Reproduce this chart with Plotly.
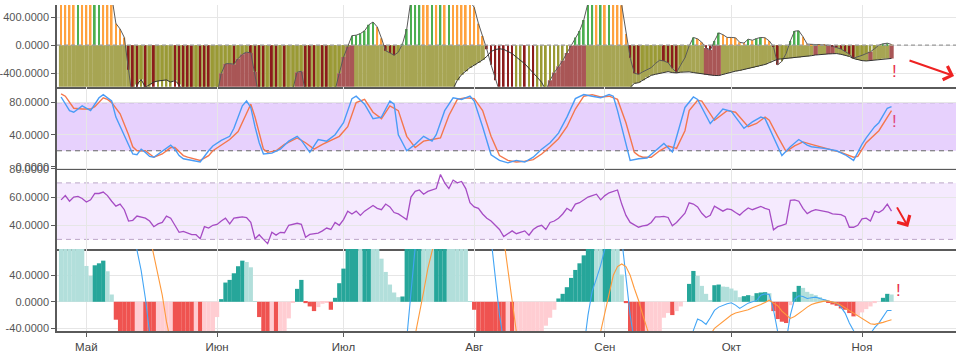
import pandas as pd
import plotly.graph_objects as go

START = "2024-04-25"
N = 198

# ---------------- panel 1 : oscillator (stripes + cloud) ----------------
osc_a = [
    900, 870, 840, 820, 860, 840, 820, 800, 830, 860,
    840, 800, 700, 310, 230, 110, -350, -800, -820, -780,
    -810, -790, -830, -800, -780, -760, -740, -780, -820, -850,
    -880, -900, -880, -900, -920, -940, -920, -700, -400, -265,
    -262, -272, -190, -130, -100, -110, -380, -750, -800, -780,
    -820, -850, -830, -870, -700, -620, -385, -372, -680, -750,
    -800, -780, -820, -850, -800, -640, -400, -170, -20, 135,
    142, 165, 205, 290, 330, 260, 100, -80, -110, -143,
    -100, 20, 230, 650, 700, 750, 720, 700, 740, 720,
    760, 740, 780, 760, 740, 720, 700, 620, 540, 310,
    130, -60, -280, -500, -750, -850, -900, -950, -930, -910,
    -960, -940, -980, -950, -900, -650, -500, -390, -300, -220,
    -110, -10, 110, 200, 360, 600, 700, 680, 720, 700,
    740, 720, 680, 570, 160, -180, -400, -415, -380, -345,
    -320, -260, -215, -225, -250, -330, -390, -280, -180, -10,
    110, 90, 40, -40, -70, 60, 175, 150, 110, 110,
    105, 40, 30, 85, 70, 95, 110, 105, 60, -20,
    -280, -230, -120, 60, 200, 205, 120, 15, 12, 18,
    10, 5, 0, -15, -35, -55, -90, -130, -185, -170,
    -145, -120, -95, -50, 0, 20, 28, 10,
]
osc_b = [
    -900, -900, -900, -900, -900, -900, -900, -900, -900, -900,
    -900, -900, -900, -900, -900, -900, -900, -900, -560, -490,
    -600, -560, -525, -510, -505, -495, -525, -505, -560, -680,
    -900, -900, -900, -900, -900, -900, -900, -900, -900, -900,
    -900, -900, -900, -900, -900, -900, -900, -900, -900, -900,
    -900, -900, -900, -900, -900, -900, -900, -900, -900, -900,
    -900, -900, -900, -900, -900, -900, -900, -900, -900, -900,
    -900, -900, -900, -900, -900, -900, -900, -900, -900, -900,
    -900, -900, -900, -900, -900, -900, -900, -900, -900, -900,
    -900, -900, -900, -620, -500, -420, -370, -320, -285, -250,
    -210, -160, -90, -62, -52, -60, -90, -120, -170, -220,
    -265, -330, -390, -460, -530, -640, -900, -900, -900, -900,
    -900, -900, -900, -900, -900, -900, -900, -900, -900, -900,
    -900, -900, -900, -900, -900, -600, -545, -534, -500, -460,
    -430, -415, -400, -385, -377, -390, -395, -385, -378, -380,
    -390, -400, -410, -420, -428, -432, -433, -415, -395, -380,
    -370, -360, -345, -335, -325, -310, -290, -275, -250, -220,
    -200, -195, -190, -185, -180, -175, -168, -160, -150, -140,
    -132, -128, -125, -122, -120, -130, -145, -160, -190, -210,
    -220, -225, -220, -212, -205, -195, -190, -189,
]
# regime of the cloud: o = olive, m = olive over maroon, r = maroon, - = none
cloud_runs = [("o", 38), ("m", 9), ("o", 8), ("m", 4), ("o", 3), ("m", 8),
              ("o", 31), ("-", 14), ("r", 10), ("o", 28), ("r", 4), ("o", 22),
              ("r", 1), ("o", 2), ("r", 2), ("o", 8), ("r", 1), ("o", 4), ("r", 1)]

# ---------------- panel 2 : stochastic ----------------
stoch_k_idx = [0, 2, 3, 5, 7, 9, 10, 12, 13, 15, 17, 18, 19, 20, 21, 22, 24, 26, 27, 28,
               29, 31, 33, 35, 36, 38, 40, 41, 42, 43, 44, 45, 46, 47, 48, 50, 52, 54, 56, 57,
               59, 61, 63, 65, 67, 69, 70, 72, 74, 76, 78, 79, 80, 82, 84, 86, 88, 89, 91, 93,
               95, 97, 98, 100, 102, 104, 106, 108, 110, 112, 114, 116, 118, 120, 122, 124, 126, 128, 130, 131,
               132, 134, 135, 137, 139, 141, 143, 145, 147, 148, 150, 151, 154, 157, 159, 162, 164, 166, 167, 169,
               171, 173, 175, 177, 178, 181, 184, 186, 188, 190, 191, 193, 194, 196, 197]
stoch_k = [87, 70, 68, 76, 70, 86, 90, 82, 62, 40, 16, 15, 22, 18, 13, 12, 20, 27, 22, 14,
           10, 8, 6, 20, 26, 33, 38, 48, 62, 76, 82, 74, 50, 30, 16, 17, 22, 32, 38, 33,
           18, 34, 32, 40, 55, 85, 88, 78, 60, 62, 82, 78, 40, 20, 28, 38, 32, 40, 70, 86,
           84, 88, 82, 50, 15, 8, 5, 8, 6, 12, 22, 30, 42, 62, 85, 90, 88, 86, 90, 88,
           70, 30, 8, 10, 11, 20, 29, 18.5, 55, 74, 87, 84, 54, 72, 69, 48, 56, 62, 60, 38,
           14, 25, 34, 27, 25, 23, 20, 15, 8, 28, 36, 50, 55, 73, 75]
stoch_d_idx = [0, 1, 3, 5, 7, 8, 10, 11, 12, 14, 16, 17, 18, 20, 22, 24, 26, 27, 29, 30,
               33, 35, 36, 40, 42, 45, 46, 47, 48, 49, 51, 53, 56, 58, 60, 62, 64, 66, 68, 70,
               72, 74, 76, 78, 80, 82, 84, 86, 88, 90, 92, 94, 96, 98, 100, 102, 104, 106, 108, 110,
               112, 114, 116, 118, 120, 122, 124, 126, 128, 130, 132, 134, 136, 137, 138, 140, 142, 144, 146, 148,
               149, 151, 152, 155, 158, 160, 163, 165, 167, 168, 170, 172, 174, 176, 178, 181, 185, 188, 189, 191,
               194, 197]
stoch_d = [91, 88, 73, 72, 72, 75, 86, 84, 80, 66, 40, 25, 20, 20, 12, 16, 24, 24, 14, 12,
           8, 14, 20, 34, 44, 78, 62, 42, 22, 18, 20, 28, 36, 30, 22, 28, 33, 38, 50, 80,
           84, 68, 60, 76, 70, 38, 24, 32, 34, 36, 64, 84, 86, 85, 70, 38, 14, 8, 6, 7,
           9, 16, 25, 35, 50, 72, 88, 90, 87, 88, 84, 55, 18, 14, 12, 12, 20, 26, 23, 45,
           70, 83, 82, 58, 70, 68, 50, 54, 62, 58, 38, 19, 26, 31, 28, 24, 18, 12, 13, 30,
           45, 70]

# ---------------- panel 3 : RSI ----------------
rsi = [
    58, 61, 57, 60, 60.5, 59, 56.5, 58, 62.5, 62.5,
    63.5, 61, 57, 53.5, 55, 51, 43, 43.5, 46.5, 46,
    45, 43, 39, 41, 42, 46.5, 45, 40, 35, 35.7,
    34.5, 33.3, 33.3, 30.5, 39, 38, 40, 40.6, 43, 45,
    41, 45, 45.5, 46, 45.5, 42, 30.5, 33.3, 30, 27,
    35, 33, 35, 34.7, 40, 40.5, 41.4, 40.6, 31.5, 33.5,
    34, 34.5, 36, 38, 37, 42, 40, 44, 50, 48,
    50, 47, 50, 52, 54, 52, 51, 55, 53, 49,
    48, 46, 44, 60, 64, 65, 62, 64, 65, 66,
    76, 70, 66, 72, 70, 71, 66, 56, 53, 52,
    48, 45, 43, 40, 37, 32, 34, 36, 34, 35,
    36, 33, 37, 39, 40, 37, 42, 43, 45, 48,
    52, 50, 55, 56, 58, 60, 61, 62, 58, 61,
    63, 64, 65, 55, 47, 42, 40, 38.6, 39.5, 40,
    42, 46, 46, 46.3, 45.5, 39.7, 42, 45, 48.5, 55.9,
    55, 53, 48.5, 45.5, 47, 53.5, 52, 50, 51.6, 51,
    49, 47.2, 50, 52.3, 51, 52, 53.3, 52, 51, 36.8,
    39, 40, 41, 57.7, 58, 57, 52, 48.3, 50, 51,
    50.5, 50, 49.3, 48, 48, 47.5, 46, 38.6, 38.6, 40,
    44.5, 45, 43, 50, 49, 51, 55, 50,
]

# ---------------- panel 4 : MACD ----------------
macd_hist = [
    140, 130, 120, 110, 100, 90, 54, 39, 55, 58,
    62, 46, 11, -27, -60, -80, -100, -120, -110, -100,
    -130, -150, -170, -160, -150, -140, -130, -140, -150, -160,
    -170, -180, -170, -180, -150, -120, -60, -23, 4, 29,
    33, 43, 53.6, 62, 60, 52, 1, -23, -50, -60,
    -55, -65, -55, -48, -25, -1, 19.5, 33, -2, -7,
    -14, -8, -3, -1, -12, 6, 28, 50, 90, 100,
    110, 100, 110, 120, 100, 85, 65, 45, 26, 14,
    7, 8, 100, 110, 120, 130, 125, 120, 115, 125,
    130, 135, 130, 125, 120, 110, 100, 0.5, -12, -60,
    -80, -100, -120, -140, -160, -180, -170, -190, -180, -160,
    -140, -120, -100, -80, -60, -36, -24, -12, 5, 12,
    22, 36, 48, 58, 70, 90, 100, 95, 90, 100,
    110, 105, 100, 41, -2, -60, -80, -100, -110, -100,
    -90, -70, -50, -24, -17, -20, -14, -7, 0, 27,
    46.5, 39, 24, 12, 2, 25, 26, 23, 22.5, 20,
    17, 7, 8.5, 10, 9, 13, 14, 14.5, 13, -14,
    -26, -30, -32, -5, 15, 24, 21, 15, 12, 10,
    7, 4, -1, -4, -6, -10, -12, -17, -22, -21,
    -16, -11, -7, -2, 0, 6, 12, 11,
]
macd_idx = [0, 10, 16, 17, 18, 19, 20, 21, 22, 24, 40, 60, 75, 80, 81, 82, 83, 84, 85, 87,
            95, 100, 101, 102, 103, 104, 105, 106, 115, 122, 123, 124, 125, 126, 127, 128, 129, 130, 131, 132,
            133, 134, 135, 136, 137, 142, 146, 148, 149, 150, 151, 152, 153, 154, 155, 156, 157, 158, 159, 160,
            161, 162, 163, 164, 165, 166, 167, 168, 169, 170, 171, 172, 173, 174, 175, 176, 177, 178, 179, 180,
            181, 182, 183, 184, 185, 186, 187, 188, 189, 190, 191, 192, 193, 194, 195, 196, 197]
macd_line = [400, 350, 200, 130, 78, 47, 5, -40, -90, -200, -400, -300, -200, -120, -90, -55, 15, 82, 140, 220,
             250, 180, 150, 95, 40, -20, -60, -100, -250, -150, -110, -70, -20, 16, 35, 55, 80, 110, 130, 140,
             95, 40, -20, -60, -110, -150, -130, -100, -80, -43, -26, -29, -34, -24, -13, -8, -5, -3, -1.5, -5,
             -10, -6, -2, 0, 2, 10, 12, 11, -12, -45, -70, -60, -20, 4, 9, 8, 5, 6, 7, 5,
             3, 1, 0, -2, -8, -17, -32, -42, -55, -60, -60, -48, -39, -32, -22, -13, -13]
signal_idx = [0, 15, 20, 21, 22, 23, 24, 25, 26, 28, 50, 70, 80, 83, 84, 85, 86, 87, 88, 89,
              92, 100, 103, 104, 105, 106, 107, 108, 109, 115, 124, 126, 127, 128, 129, 130, 131, 132, 133, 134,
              135, 136, 137, 138, 139, 140, 145, 150, 153, 154, 155, 156, 157, 158, 159, 160, 161, 162, 163, 164,
              165, 166, 167, 168, 169, 170, 171, 172, 173, 174, 175, 176, 177, 178, 179, 180, 181, 182, 183, 184,
              185, 186, 187, 188, 189, 190, 191, 192, 193, 194, 195, 196, 197]
signal_line = [300, 250, 140, 100, 70, 40, 10, -30, -60, -120, -300, -250, -150, -80, -50, -20, 15, 50, 82, 110,
               180, 200, 150, 130, 95, 50, 5, -45, -80, -200, -120, -90, -70, -45, -15, 15, 40, 53, 57, 53,
               40, 20, 2, -20, -42, -60, -80, -70, -58, -50, -40, -35, -30, -25, -20, -17, -15.5, -14.5, -12, -9,
               -7, -4, -1, 2.4, -2, -6, -14, -20, -25, -22, -18, -13, -8, -4, -2, 0, 1, 1, 0, -2,
               -5, -9, -14, -18, -22, -26, -30, -33, -34, -33, -31, -29, -27]

month_ticks = ["2024-05-01", "2024-06-01", "2024-07-01", "2024-08-01",
               "2024-09-01", "2024-10-01", "2024-11-01"]
month_labels = ["Май", "Июн", "Июл", "Авг", "Сен", "Окт", "Ноя"]

for arr in (osc_a, osc_b, rsi, macd_hist):
    assert len(arr) == N, len(arr)
assert len(stoch_k_idx) == len(stoch_k)
assert len(stoch_d_idx) == len(stoch_d)
assert len(macd_idx) == len(macd_line)
assert len(signal_idx) == len(signal_line)

# ---------------- derived ----------------
dates = pd.date_range(START, periods=N, freq="D")


def at(idx):
    return [dates[i] for i in idx]


cloud = []
for lab, n in cloud_runs:
    cloud.extend([lab] * n)
assert len(cloud) == N

DAY = 86400000
OLIVE_FILL = "#a7a553"
MAROON_FILL = "#a95656"

olive_len, mar_base, mar_len = [], [], []
for a, b, c in zip(osc_a, osc_b, cloud):
    top = min(a, 0)
    if c == "o":
        olive_len.append(b)
    elif c == "m":
        olive_len.append(top if top < 0 else None)
    else:
        olive_len.append(None)
    if c in "mr" and b < top:
        mar_base.append(top)
        mar_len.append(b - top)
    else:
        mar_base.append(0)
        mar_len.append(None)

stripe_colors = []
for i, v in enumerate(osc_a):
    p = osc_a[i - 1] if i else v
    if v >= 0:
        stripe_colors.append("#4caf50" if v > p else "#ffa23e")
    else:
        stripe_colors.append("#8b1c1c" if v < p else "#9a9a34")

hist_colors = []
for i, v in enumerate(macd_hist):
    p = macd_hist[i - 1] if i else v
    if v >= 0:
        hist_colors.append("#26a69a" if v > p else "#b2dfdb")
    else:
        hist_colors.append("#ef5350" if v < p else "#ffcdd2")

fig = go.Figure()

# panel 1
fig.add_trace(go.Bar(x=dates, y=olive_len, base=0, width=DAY * 1.04,
                     marker=dict(color=OLIVE_FILL, line=dict(width=0)), xaxis="x", yaxis="y"))
fig.add_trace(go.Bar(x=dates, y=mar_len, base=mar_base, width=DAY * 1.04,
                     marker=dict(color=MAROON_FILL, line=dict(width=0)), xaxis="x", yaxis="y"))
fig.add_trace(go.Bar(x=dates, y=osc_a, base=0, width=DAY * 0.42,
                     marker=dict(color=stripe_colors, line=dict(width=0)), xaxis="x", yaxis="y"))
fig.add_trace(go.Scatter(x=dates, y=osc_a, mode="lines", line=dict(color="#5a5a5a", width=1),
                         xaxis="x", yaxis="y"))
fig.add_trace(go.Scatter(x=dates, y=osc_b, mode="lines", line=dict(color="#333333", width=1),
                         xaxis="x", yaxis="y"))

# panel 2
fig.add_trace(go.Scatter(x=at(stoch_d_idx), y=stoch_d, mode="lines",
                         line=dict(color="#f4774d", width=1.4), xaxis="x2", yaxis="y2"))
fig.add_trace(go.Scatter(x=at(stoch_k_idx), y=stoch_k, mode="lines",
                         line=dict(color="#4a9cf6", width=1.4), xaxis="x2", yaxis="y2"))

# panel 3
fig.add_trace(go.Scatter(x=dates, y=rsi, mode="lines",
                         line=dict(color="#a64cc4", width=1.3), xaxis="x3", yaxis="y3"))

# panel 4
fig.add_trace(go.Bar(x=dates, y=macd_hist, width=DAY * 1.02,
                     marker=dict(color=hist_colors, line=dict(width=0)), xaxis="x4", yaxis="y4"))
fig.add_trace(go.Scatter(x=at(macd_idx), y=macd_line, mode="lines",
                         line=dict(color="#42a5f5", width=1.1), xaxis="x4", yaxis="y4"))
fig.add_trace(go.Scatter(x=at(signal_idx), y=signal_line, mode="lines",
                         line=dict(color="#ff9a3c", width=1.1), xaxis="x4", yaxis="y4"))

XR = ["2024-04-24 00:42", "2024-11-23 07:12"]
AX_LINE = "#5a5a5a"
GRID = "#e6e6e6"
TICKFONT = dict(family="Arial, Liberation Sans, sans-serif", size=11, color="#555")


def xax(anchor, labels):
    return dict(type="date", range=XR, anchor=anchor, domain=[0, 1],
                tickvals=month_ticks, ticktext=month_labels, showgrid=True, gridcolor=GRID,
                showline=True, linecolor=AX_LINE, linewidth=1.5, zeroline=False,
                showticklabels=labels, ticks="outside" if labels else "", ticklen=4,
                tickcolor=AX_LINE, tickfont=dict(family="Arial, Liberation Sans, sans-serif",
                                                  size=11.5, color="#444"))


def yax(domain, rng, vals, texts):
    return dict(domain=domain, range=rng, tickvals=vals, ticktext=texts, showgrid=True,
                gridcolor=GRID, showline=True, linecolor=AX_LINE, linewidth=1.5,
                zeroline=False, ticks="outside", ticklen=4, tickcolor=AX_LINE,
                tickfont=TICKFONT, fixedrange=True)


D1, D2, D3 = 0.7493, 0.5015, 0.2516

shapes = [
    dict(type="line", xref="paper", x0=0, x1=1, yref="y", y0=0, y1=0,
         line=dict(color="#9a9a9a", width=1.2, dash="4px,3px"), layer="above"),
    dict(type="rect", xref="paper", x0=0, x1=1, yref="y2", y0=20, y1=80,
         fillcolor="rgba(185,120,250,0.34)", line=dict(width=0), layer="below"),
    dict(type="line", xref="paper", x0=0, x1=1, yref="y2", y0=80, y1=80,
         line=dict(color="#666", width=1, dash="5px,4px"), layer="below"),
    dict(type="line", xref="paper", x0=0, x1=1, yref="y2", y0=20, y1=20,
         line=dict(color="#666", width=1, dash="5px,4px"), layer="below"),
    dict(type="rect", xref="paper", x0=0, x1=1, yref="y3", y0=30, y1=70,
         fillcolor="rgba(200,140,250,0.18)", line=dict(width=0), layer="below"),
    dict(type="line", xref="paper", x0=0, x1=1, yref="y3", y0=70, y1=70,
         line=dict(color="#bba6c8", width=1, dash="5px,4px"), layer="below"),
    dict(type="line", xref="paper", x0=0, x1=1, yref="y3", y0=30, y1=30,
         line=dict(color="#bba6c8", width=1, dash="5px,4px"), layer="below"),
]

FONT = "Arial, Liberation Sans, sans-serif"
annotations = [
    dict(xref="paper", yref="paper", x=0.9369, y=0.8299, text="!", showarrow=False,
         font=dict(family=FONT, size=17, color="#e8304a")),
    dict(xref="paper", yref="paper", x=0.9369, y=0.6776, text="!", showarrow=False,
         font=dict(family=FONT, size=17, color="#e0457b")),
    dict(xref="paper", yref="paper", x=0.9413, y=0.0896, text="!", showarrow=False,
         font=dict(family=FONT, size=17, color="#e8304a")),
    dict(xref="paper", yref="paper", x=0.9978, y=0.7821, ax=-46, ay=-16, text="",
         showarrow=True, arrowhead=4, arrowsize=1.4, arrowwidth=2, arrowcolor="#ee2222"),
    dict(xref="paper", yref="paper", x=0.9468, y=0.3194, ax=-12, ay=-21, text="",
         showarrow=True, arrowhead=4, arrowsize=1.4, arrowwidth=2, arrowcolor="#ee2222"),
]

fig.update_layout(
    width=956, height=353,
    margin=dict(l=53, r=0, t=0, b=18),
    paper_bgcolor="white", plot_bgcolor="white",
    showlegend=False, barmode="overlay",
    xaxis=xax("y", False), xaxis2=xax("y2", False), xaxis3=xax("y3", False),
    xaxis4=xax("y4", True),
    yaxis=yax([D1, 1], [-592, 572], [400, 0, -400], ["400.0000", "0.0000", "-400.0000"]),
    yaxis2=yax([D2, D1], [-0.85, 99.8], [80, 40, 0], ["80.0000", "40.0000", "0.0000"]),
    yaxis3=yax([D3, D2], [23.2, 80.9], [80, 60, 40], ["80.0000", "60.0000", "40.0000"]),
    yaxis4=yax([0, D3], [-44, 79.6], [40, 0, -40], ["40.0000", "0.0000", "-40.0000"]),
    shapes=shapes, annotations=annotations,
    font=dict(family=FONT),
)

fig.write_html("out.html")
